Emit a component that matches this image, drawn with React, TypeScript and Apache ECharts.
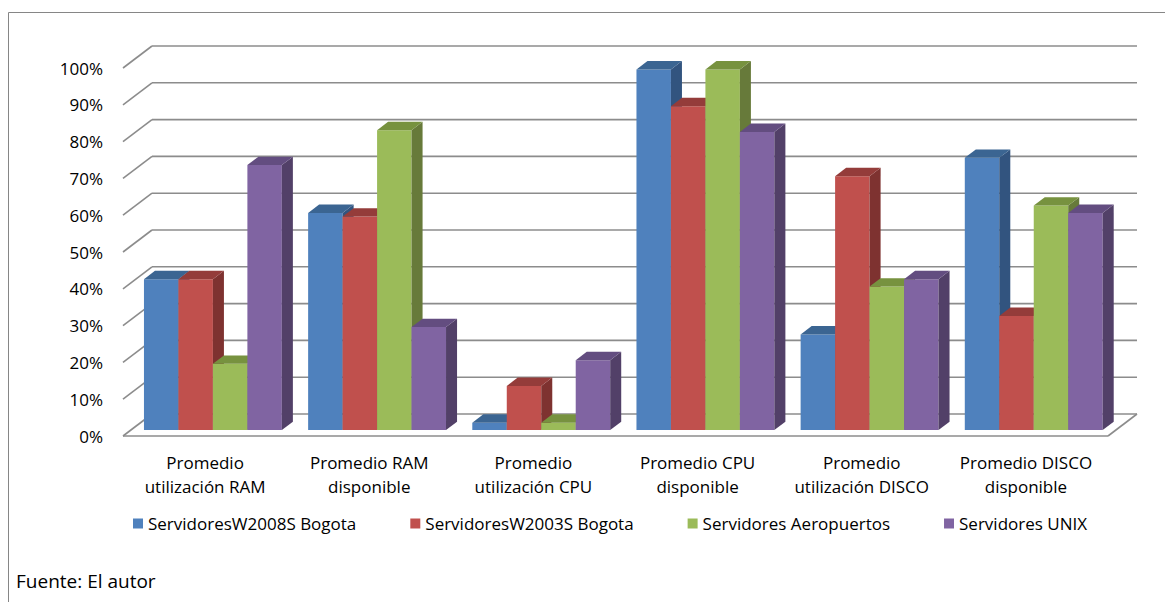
import React, { useEffect, useRef } from 'react';
import * as echarts from 'echarts';

const categories = [
  'Promedio\nutilización RAM',
  'Promedio RAM\ndisponible',
  'Promedio\nutilización CPU',
  'Promedio CPU\ndisponible',
  'Promedio\nutilización DISCO',
  'Promedio DISCO\ndisponible',
];

const seriesNames = [
  'ServidoresW2008S Bogota',
  'ServidoresW2003S Bogota',
  'Servidores Aeropuertos',
  'Servidores UNIX',
];

const w2008Bogota = [0.41, 0.59, 0.02, 0.98, 0.26, 0.74];
const w2003Bogota = [0.41, 0.58, 0.12, 0.88, 0.69, 0.31];
const aeropuertos = [0.18, 0.815, 0.02, 0.98, 0.39, 0.61];
const unix = [0.72, 0.28, 0.19, 0.81, 0.41, 0.59];

const yTicks = [0, 0.1, 0.2, 0.3, 0.4, 0.5, 0.6, 0.7, 0.8, 0.9, 1];

const frontColors = ['#4F81BD', '#C0504D', '#9BBB59', '#8064A2'];
const topColors = ['#3B6592', '#943C3A', '#77923F', '#634D80'];
const sideColors = ['#32547F', '#7E3230', '#677A3A', '#524068'];

const FONT = "'Open Sans', sans-serif";

// perspective offset from the front plane to the back wall
const DX = 29;
const DY = -22;
// bars sit between these depth fractions
const T_FRONT = 0.27;
const T_BACK = 0.65;

export default function App() {
  const ref = useRef<HTMLDivElement>(null);

  useEffect(() => {
    if (!ref.current) return;
    const chart = echarts.init(ref.current, undefined, { renderer: 'svg' });

    const allValues = [w2008Bogota, w2003Bogota, aeropuertos, unix];

    const barSeries = allValues.map((vals, s) => ({
      type: 'custom',
      name: seriesNames[s],
      z: 3 + s,
      itemStyle: { color: frontColors[s] },
      data: vals.map((v, i) => [i, v]),
      renderItem: (params: any, api: any) => {
        const cat = api.value(0);
        const v = api.value(1);
        const base = api.coord([cat, 0]);
        const top = api.coord([cat, v]);
        const band = api.size([1, 0])[0];
        const groupW = band * 0.84;
        const bw = groupW / 4;
        const fx = DX * T_FRONT;
        const fy = DY * T_FRONT;
        const sx = DX * (T_BACK - T_FRONT);
        const sy = DY * (T_BACK - T_FRONT);
        const x0 = base[0] - groupW / 2 + s * bw + fx;
        const x1 = x0 + bw;
        const yb = base[1] + fy;
        const yt = top[1] + fy;
        return {
          type: 'group',
          children: [
            {
              type: 'rect',
              shape: { x: x0, y: yt, width: bw, height: yb - yt },
              style: { fill: frontColors[s] },
            },
            {
              type: 'polygon',
              shape: { points: [[x1, yt], [x1 + sx, yt + sy], [x1 + sx, yb + sy], [x1, yb]] },
              style: { fill: sideColors[s] },
            },
            {
              type: 'polygon',
              shape: { points: [[x0, yt], [x0 + sx, yt + sy], [x1 + sx, yt + sy], [x1, yt]] },
              style: { fill: topColors[s] },
            },
          ],
        };
      },
    }));

    // back wall, side wall and floor lines
    const wallSeries = {
      type: 'custom',
      name: 'walls',
      z: 1,
      silent: true,
      data: [[0, 0]],
      renderItem: (params: any, api: any) => {
        const cs = params.coordSys;
        const L = cs.x;
        const R = cs.x + cs.width;
        const lineStyle = { stroke: '#8C8C8C', lineWidth: 1.6 };
        const children: any[] = [];
        yTicks.forEach((t) => {
          const y = api.coord([0, t])[1];
          children.push({
            type: 'line',
            shape: { x1: L + DX, y1: y + DY, x2: R + DX, y2: y + DY },
            style: lineStyle,
          });
          children.push({
            type: 'line',
            shape: { x1: L, y1: y, x2: L + DX, y2: y + DY },
            style: lineStyle,
          });
        });
        const y0 = api.coord([0, 0])[1];
        children.push({
          type: 'line',
          shape: { x1: L, y1: y0, x2: R, y2: y0 },
          style: lineStyle,
        });
        children.push({
          type: 'line',
          shape: { x1: R, y1: y0, x2: R + DX, y2: y0 + DY },
          style: lineStyle,
        });
        return { type: 'group', children };
      },
    };

    chart.setOption({
      animation: false,
      backgroundColor: '#FFFFFF',
      textStyle: { fontFamily: FONT },
      grid: { left: 123, top: 68, width: 985, height: 368, containLabel: false },
      xAxis: {
        type: 'category',
        data: categories,
        axisLine: { show: false },
        axisTick: { show: false },
        splitLine: { show: false },
        axisLabel: {
          interval: 0,
          margin: 14,
          fontSize: 17,
          lineHeight: 24,
          color: '#000000',
          fontFamily: FONT,
        },
      },
      yAxis: {
        type: 'value',
        min: 0,
        max: 1,
        interval: 0.1,
        axisLine: { show: false },
        axisTick: { show: false },
        splitLine: { show: false },
        axisLabel: {
          margin: 20,
          fontSize: 17,
          padding: [3, 0, 0, 0],
          color: '#000000',
          fontFamily: FONT,
          formatter: (v: number) => `${Math.round(v * 100)}%`,
        },
      },
      legend: {
        data: seriesNames,
        left: 128,
        top: 510,
        icon: 'rect',
        itemWidth: 10,
        itemHeight: 10,
        itemGap: 54,
        textStyle: { fontSize: 17, color: '#000000', fontFamily: FONT },
      },
      graphic: [
        {
          type: 'rect',
          shape: { x: 8.5, y: 12.5, width: 1170, height: 600 },
          style: { fill: 'none', stroke: '#868686', lineWidth: 1 },
          silent: true,
        },
        {
          type: 'text',
          x: 16,
          y: 581,
          style: {
            text: 'Fuente: El autor',
            fontSize: 19,
            fontFamily: FONT,
            fill: '#000000',
            verticalAlign: 'middle',
          },
        },
      ],
      series: [wallSeries, ...barSeries],
    });

    return () => chart.dispose();
  }, []);

  return (
    <div
      ref={ref}
      style={{ position: 'fixed', left: 0, top: 0, width: 1165, height: 602 }}
    />
  );
}
